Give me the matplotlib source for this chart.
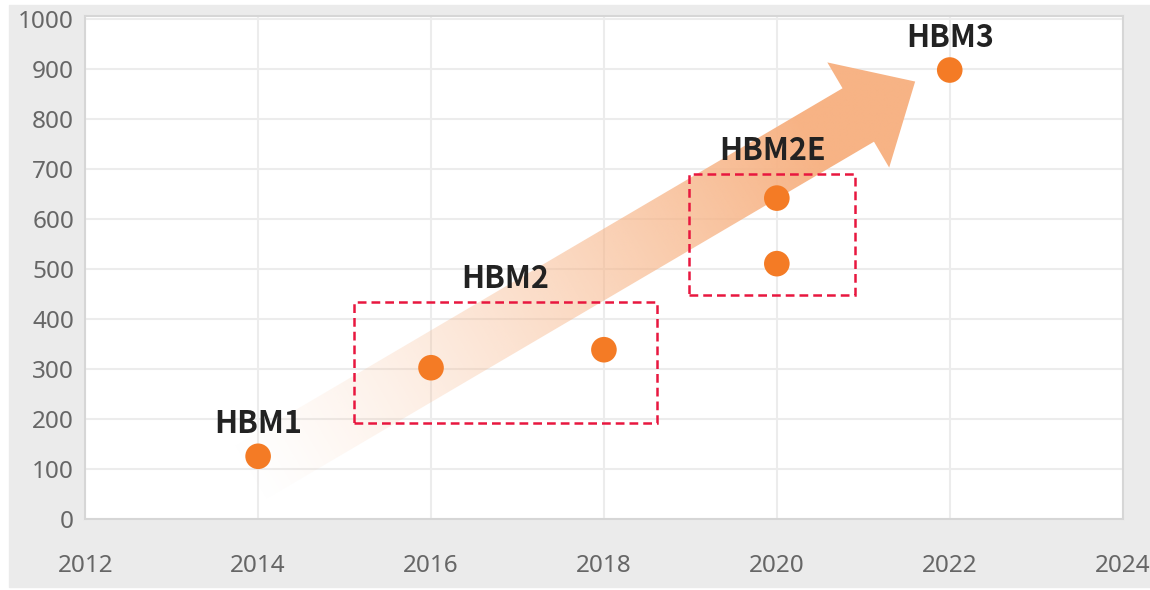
import numpy as np
import matplotlib.pyplot as plt
from matplotlib.patches import Rectangle, Polygon
from matplotlib.colors import to_rgb

plt.rcParams['font.family'] = ['Noto Sans', 'DejaVu Sans']
label_font = ['Noto Sans CJK SC', 'DejaVu Sans']

# Ancho de banda por generación HBM
years = [2014, 2016, 2018, 2020, 2020, 2022]
bandwidth = [126, 303, 339, 511, 642, 898]

# Etiquetas sobre un punto suelto
single_labels = [("HBM1", 2014, 126), ("HBM3", 2022, 898)]
# Etiquetas con recuadro: (nombre, x0, x1, y0, y1)
boxed_labels = [("HBM2", 2015.11, 2018.61, 193, 435),
                ("HBM2E", 2018.98, 2020.91, 449, 691)]

# Flecha de tendencia (cola -> punta)
arrow_tail = (2013.59, 61)
arrow_tip = (2021.60, 875)

color_pt = '#f47b25'
color_box = '#e8173f'
color_arrow = '#f7b385'

fig = plt.figure(figsize=(11.5, 5.9), dpi=100)
# panel gris de fondo
fig.patches.append(Rectangle((9 / 1150, 3 / 590), 1141 / 1150, 582 / 590,
                             transform=fig.transFigure, color='#ebebeb', zorder=-1))

ax = fig.add_axes([0.0741, 0.1198, 0.9021, 0.8531])
ax.set_xlim(2012, 2024)
ax.set_ylim(0, 1006)
ax.set_xticks(range(2012, 2025, 2))
ax.set_yticks(range(0, 1001, 100))
ax.tick_params(length=0, labelsize=17.5, labelcolor='#666666')
ax.tick_params(axis='y', pad=8)
ax.tick_params(axis='x', pad=25)
ax.grid(True, color='#ececec', lw=1.5)
ax.set_axisbelow(True)
for s in ax.spines.values():
    s.set_color('#d6d6d6')
    s.set_linewidth(1.5)


def gradient_arrow(ax, tail, tip, shaft_w=62, head_w=122, head_len=66):
    T = ax.transData
    p0 = T.transform(tail)
    p1 = T.transform(tip)
    d = p1 - p0
    L = np.hypot(*d)
    u = d / L
    n = np.array([-u[1], u[0]])
    base = p1 - u * head_len
    verts = np.array([p0 + n * shaft_w / 2, base + n * shaft_w / 2, base + n * head_w / 2,
                      p1, base - n * head_w / 2, base - n * shaft_w / 2, p0 - n * shaft_w / 2])
    vd = T.inverted().transform(verts)
    poly = Polygon(vd, closed=True, transform=T, facecolor='none', edgecolor='none')
    ax.add_patch(poly)

    # degradado a lo largo de la flecha, transparente en la cola
    x0, x1 = vd[:, 0].min(), vd[:, 0].max()
    y0, y1 = vd[:, 1].min(), vd[:, 1].max()
    nx, ny = 500, 400
    gx, gy = np.meshgrid(np.linspace(x0, x1, nx), np.linspace(y0, y1, ny))
    pts = T.transform(np.column_stack([gx.ravel(), gy.ravel()]))
    t = ((pts - p0) @ u) / L
    alpha = (np.clip((t - 0.03) / 0.82, 0, 1) ** 1.25).reshape(ny, nx)
    rgba = np.zeros((ny, nx, 4))
    rgba[..., :3] = to_rgb(color_arrow)
    rgba[..., 3] = alpha
    im = ax.imshow(rgba, extent=(x0, x1, y0, y1), origin='lower', aspect='auto',
                   interpolation='bilinear', zorder=1.5)
    im.set_clip_path(poly)


gradient_arrow(ax, arrow_tail, arrow_tip)
ax.set_xlim(2012, 2024)
ax.set_ylim(0, 1006)

# Recuadros punteados
for name, x0, x1, y0, y1 in boxed_labels:
    ax.add_patch(Rectangle((x0, y0), x1 - x0, y1 - y0, fill=False, edgecolor=color_box,
                           lw=1.8, linestyle=(0, (3.5, 2)), zorder=3))
    ax.annotate(name, xy=((x0 + x1) / 2, y1), xytext=(0, 16), textcoords='offset points',
                ha='center', va='center', fontsize=22, fontweight='bold', color='#222222',
                family=label_font, zorder=5)

for name, x, y in single_labels:
    ax.annotate(name, xy=(x, y), xytext=(0, 23), textcoords='offset points',
                ha='center', va='center', fontsize=22, fontweight='bold', color='#222222',
                family=label_font, zorder=5)

ax.scatter(years, bandwidth, s=340, color=color_pt, edgecolors='none', zorder=4)

fig.savefig('out.png', dpi=100)
